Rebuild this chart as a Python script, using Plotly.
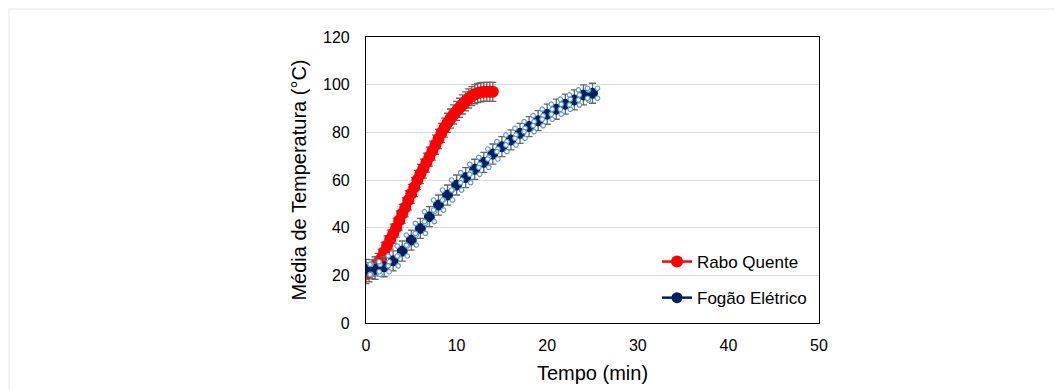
import plotly.graph_objects as go

# ---------------- data ----------------
rabo_time = [0, 0.33, 0.67, 1.0, 1.33, 1.67, 2.0, 2.33, 2.67, 3.0, 3.33, 3.67, 4.0, 4.33,
             4.67, 5.0, 5.33, 5.67, 6.0, 6.33, 6.67, 7.0, 7.33, 7.67, 8.0, 8.33, 8.67,
             9.0, 9.33, 9.67, 10.0, 10.33, 10.67, 11.0, 11.33, 11.67, 12.0, 12.33,
             12.67, 13.0, 13.33, 13.67, 14.0]
rabo_temp = [20.5, 21.3, 22.5, 23.8, 25.2, 27.0, 29.8, 32.5, 35.0, 37.5, 40.0, 43.0, 45.8,
             48.5, 51.5, 54.2, 57.0, 60.0, 62.5, 64.8, 67.3, 69.8, 72.3, 74.8, 77.2, 79.8,
             82.0, 84.0, 85.8, 87.5, 89.0, 90.3, 91.7, 93.0, 94.2, 95.2, 96.0, 96.5, 96.8,
             97.0, 97.0, 97.0, 97.0]
rabo_err = [4.0] * len(rabo_time)

fogao_time = [0, 1, 2, 3, 4, 5, 6, 7, 8, 9, 10, 11, 12, 13, 14, 15, 16, 17, 18, 19, 20,
              21, 22, 23, 24, 25]
fogao_temp = [22.5, 22.5, 23.6, 26.1, 30.2, 34.8, 39.7, 44.6, 49.5, 53.7, 57.9, 61.0, 64.5,
              67.4, 70.9, 74.0, 76.8, 79.6, 82.4, 84.9, 87.6, 89.7, 91.8, 93.6, 95.7, 96.4]
fogao_err = [4.2] * len(fogao_time)

x_ticks = [0, 10, 20, 30, 40, 50]
y_ticks = [0, 20, 40, 60, 80, 100, 120]

series_names = ["Rabo Quente", "Fogão Elétrico"]

# ---------------- style ----------------
RED = "#FF0000"
NAVY = "#002060"
ERR = "#666666"
HANDLE = "#5B9BD5"
FONT = "Liberation Sans, Arial, sans-serif"

# page body has an 8px default margin; figure sized to fit the window
W, H = 1055, 382
ML, MR, MT, MB = 358, 244, 29, 67
plot_w = W - ML - MR
plot_h = H - MT - MB
x_range = [0, 50]
y_range = [0, 120]
px_x = (x_range[1] - x_range[0]) / plot_w
px_y = (y_range[1] - y_range[0]) / plot_h

fig = go.Figure()

fig.add_trace(go.Scatter(
    x=rabo_time, y=rabo_temp, name=series_names[0], mode="lines+markers",
    line=dict(color=RED, width=2.5),
    marker=dict(color=RED, size=12, line=dict(width=0)),
    error_y=dict(type="data", array=rabo_err, color=ERR, thickness=1.3, width=3.5),
    legendgroup="a",
))

fig.add_trace(go.Scatter(
    x=fogao_time, y=fogao_temp, name=series_names[1], mode="lines+markers",
    line=dict(color=NAVY, width=2.5),
    marker=dict(color=NAVY, size=11, line=dict(width=0)),
    error_y=dict(type="data", array=fogao_err, color=ERR, thickness=1.3, width=3.5),
    legendgroup="b",
))

# selection handles around the navy points (pixel offsets converted to data units)
hx, hy = [], []
for t, v in zip(fogao_time, fogao_temp):
    for sx in (-1, 1):
        for sy in (-1, 1):
            hx.append(t + sx * 5 * px_x)
            hy.append(v + sy * 5 * px_y)
fig.add_trace(go.Scatter(
    x=hx, y=hy, mode="markers", showlegend=False, hoverinfo="skip",
    marker=dict(color="white", size=4.5, line=dict(color=HANDLE, width=1.2)),
))

fig.update_layout(
    width=W, height=H, autosize=False,
    margin=dict(l=ML, r=MR, t=MT, b=MB, pad=0),
    paper_bgcolor="white", plot_bgcolor="white",
    font=dict(family=FONT, size=16, color="#000000"),
    showlegend=True,
    legend=dict(
        x=(649 - ML) / plot_w, y=(H - MB - 236) / plot_h,
        xanchor="left", yanchor="top",
        bgcolor="rgba(0,0,0,0)", borderwidth=0,
        font=dict(family=FONT, size=17, color="#000000"),
        traceorder="grouped", tracegroupgap=11,
    ),
    xaxis=dict(
        range=x_range, tickvals=x_ticks, ticktext=[str(v) for v in x_ticks],
        showgrid=False, zeroline=False, automargin=False,
        showline=True, linecolor="#000000", linewidth=1.2, mirror=True,
        ticks="", tickfont=dict(size=16), ticklabelstandoff=8,
        title=dict(text="Tempo (min)", font=dict(size=20), standoff=12),
    ),
    yaxis=dict(
        range=y_range, tickvals=y_ticks, ticktext=[str(v) for v in y_ticks],
        showgrid=True, gridcolor="#D9D9D9", gridwidth=1.2, zeroline=False, automargin=False,
        showline=True, linecolor="#000000", linewidth=1.2, mirror=True,
        ticks="", tickfont=dict(size=16), ticklabelstandoff=12,
        title=dict(text="Média de Temperatura (°C)", font=dict(size=20), standoff=10),
    ),
)

# faint outer frame of the chart area (paper edge)
fig.add_shape(type="rect", xref="paper", yref="paper",
              x0=-(ML - 1) / plot_w, x1=(W - ML + 2) / plot_w,
              y0=-(MB + 2) / plot_h, y1=(H - MB - 1) / plot_h,
              line=dict(color="#EFEFEF", width=1.5), layer="below")

fig.write_html("out.html")
